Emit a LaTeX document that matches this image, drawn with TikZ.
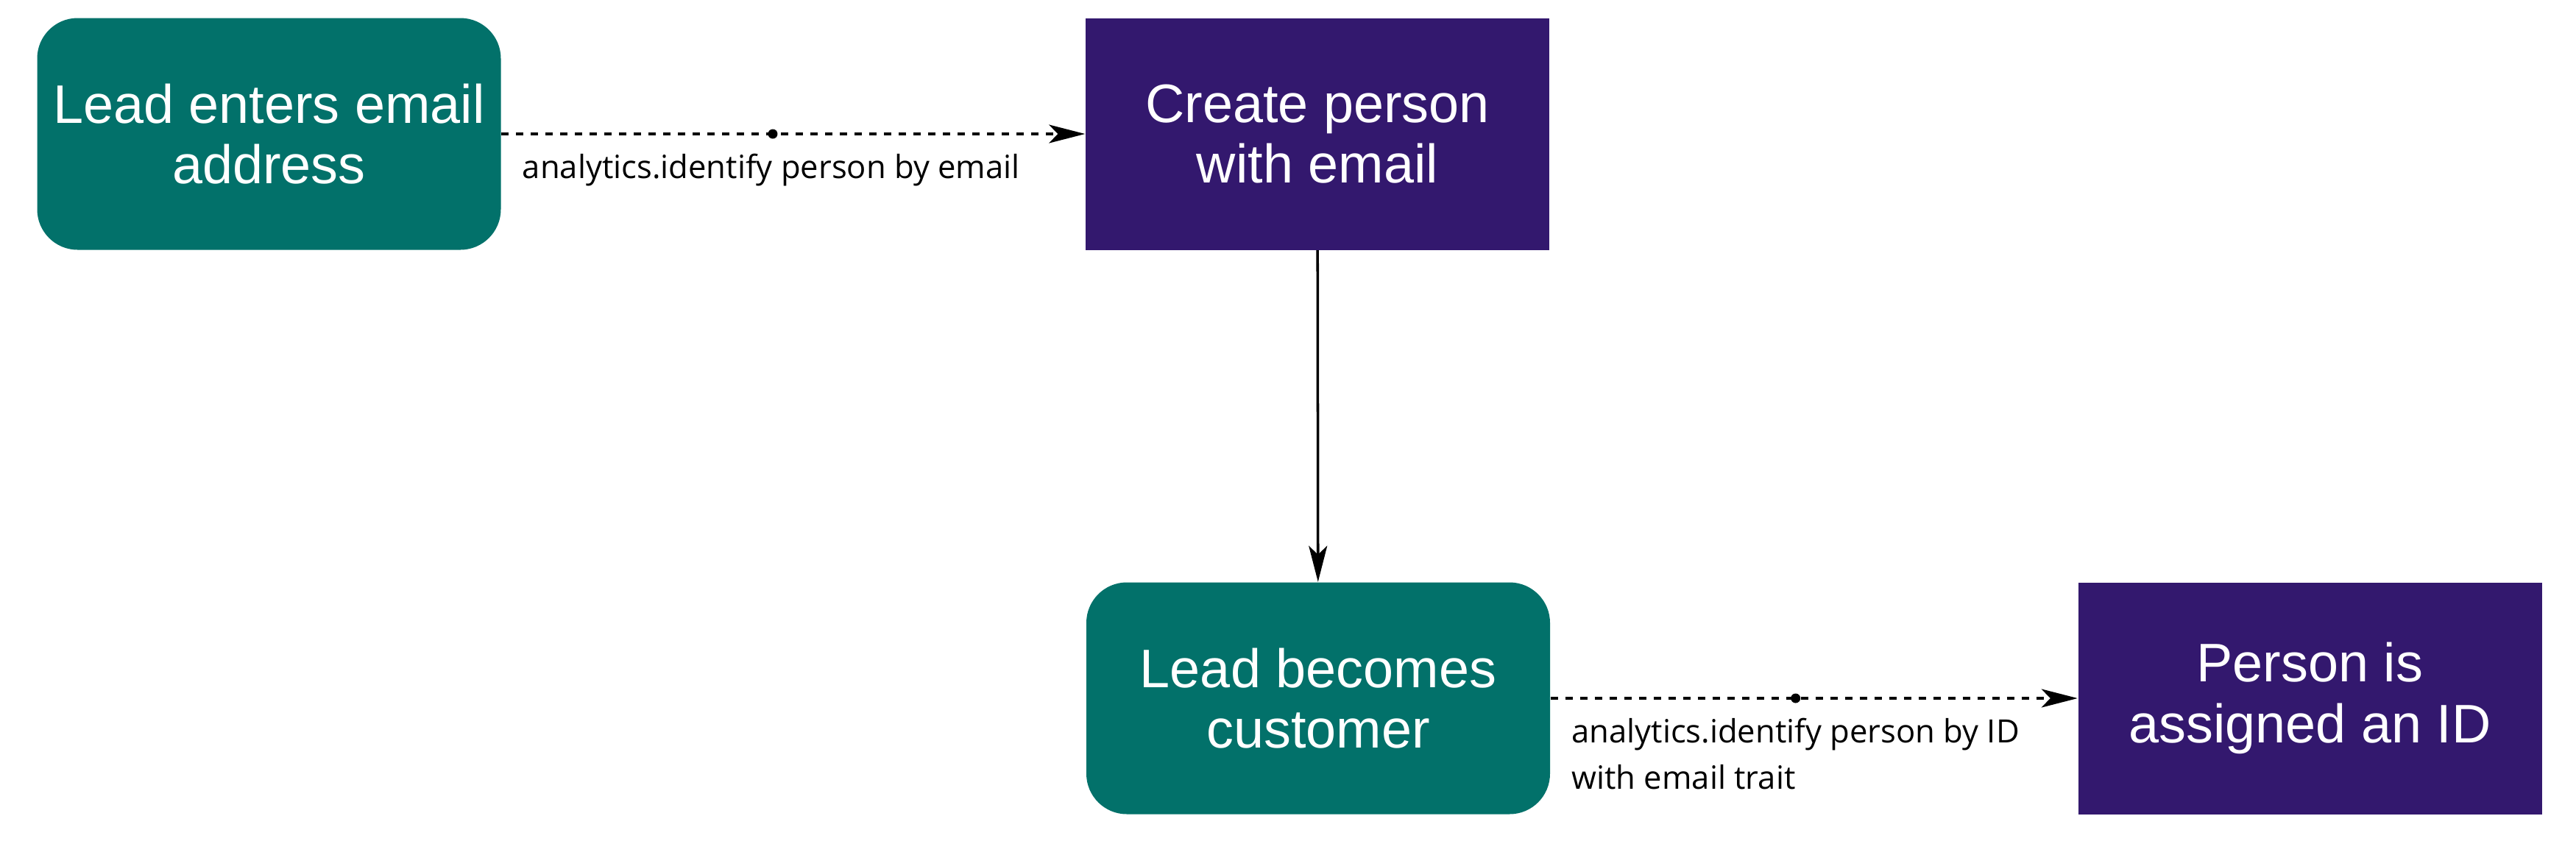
\documentclass[tikz,border=0pt]{standalone}
\usepackage{fontspec}
\setmainfont{Liberation Sans}
\newfontfamily\callfont{Open Sans}
\usepackage{tikz}
\usetikzlibrary{arrows.meta,positioning}

\definecolor{leadgreen}{HTML}{02716A}
\definecolor{personpurple}{HTML}{33186E}

\begin{document}
\begin{tikzpicture}[
    leadbox/.style={fill=leadgreen, text=white, rounded corners=0.55cm,
        minimum width=6.3cm, minimum height=3.15cm, inner sep=0pt,
        align=center, font=\fontsize{21}{23.5}\selectfont},
    personbox/.style={leadbox, sharp corners, fill=personpurple},
    flow/.style={-{Stealth[length=4.9mm, width=2.5mm, inset=1.2mm]}, line width=1pt},
    call/.style={flow, dash pattern=on 1mm off 1mm},
    middot/.style={circle, fill=black, inner sep=0pt, minimum size=1.3mm},
    calltext/.style={pos=0, anchor=north west, inner sep=0pt, align=left,
        xshift=2.7mm, yshift=-2.5mm, font=\callfont\fontsize{12.4}{18.1}\selectfont}
]
        \useasboundingbox (0,0) rectangle (35,-11.42);

        % Top row
        \node[leadbox] (enters) at (3.655,-1.82) {Lead enters email\\address};
        \node[personbox] (create) at (17.9,-1.82) {Create person\\with email};

        % Bottom row
        \node[leadbox] (customer) at (17.91,-9.49) {Lead becomes\\customer};
        \node[personbox] (assigned) at (31.385,-9.49) {Person is\\assigned an ID};

        % Identify by email
        \draw[call] (enters) -- node[middot, pos=0.465] (dotemail) {}
            node[calltext] (byemail) {analytics.identify person by email} (create);

        % Conversion
        \draw[flow] (create) -- (customer);

        % Identify by ID
        \draw[call] (customer) -- node[middot, pos=0.465] (dotid) {}
            node[calltext] (byid) {analytics.identify person by ID\\with email trait} (assigned);
\end{tikzpicture}
\end{document}
